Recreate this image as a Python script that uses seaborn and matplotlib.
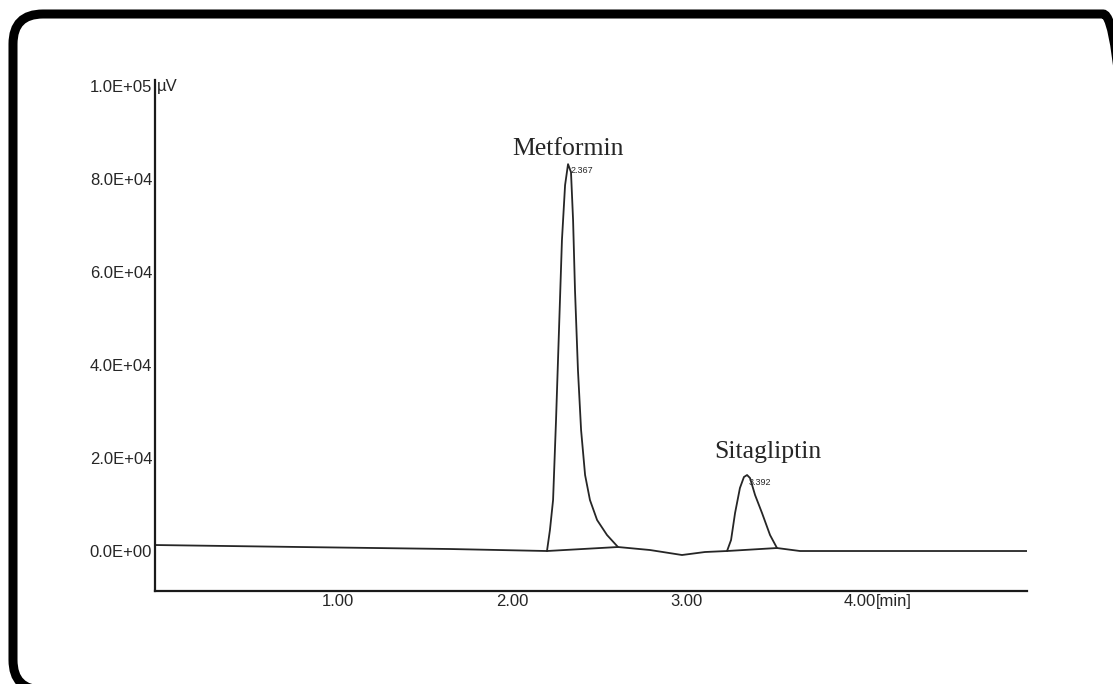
import pandas as pd
import seaborn as sns
import matplotlib.pyplot as plt
from matplotlib.patches import FancyBboxPatch
from matplotlib.transforms import IdentityTransform

# kromatogram lest av bildet (tid i min, signal i uV)
tid = [-0.052, 0.782, 1.644, 2.201, 2.218, 2.236, 2.253, 2.270, 2.287, 2.305,
       2.322, 2.339, 2.351, 2.362, 2.379, 2.397, 2.420, 2.448, 2.489, 2.546,
       2.609, 2.793, 2.977, 3.109, 3.236, 3.259, 3.282, 3.310, 3.333, 3.351,
       3.368, 3.397, 3.437, 3.483, 3.523, 3.655, 4.960]
signal = [1290, 860, 430, 0, 4515, 10965, 28170, 47520, 66870, 78690,
          83200, 81485, 71165, 56115, 38915, 26015, 16340, 10965, 6665, 3440,
          860, 215, -860, -215, 0, 2365, 8170, 13550, 15915, 16340,
          15700, 12040, 8170, 3440, 645, 0, 0]

# integrasjonsgrunnlinjer under toppene
grunnlinje_tid = [[2.201, 2.609], [3.236, 3.523]]
grunnlinje_verdi = [[0, 860], [0, 645]]

# toppnavn og retensjonstider
topp_navn = ["Metformin", "Sitagliptin"]
navn_x = [2.322, 3.471]
navn_y = [85140, 20000]
rt_tekst = ["2.367", "3.392"]
rt_x = [2.339, 3.358]
rt_y = [81900, 14800]

y_ticks = [0, 20000, 40000, 60000, 80000, 100000]
y_labels = ["0.0E+00", "2.0E+04", "4.0E+04", "6.0E+04", "8.0E+04", "1.0E+05"]
x_ticks = [1, 2, 3, 4]
x_labels = ["1.00", "2.00", "3.00", "4.00"]

sns.set_style("white")
plt.rcParams["font.family"] = ["Liberation Sans", "DejaVu Sans"]

fig = plt.figure(figsize=(11.13, 6.84), dpi=100)
ax = fig.add_axes([155 / 1113, 93 / 684, 872 / 1113, 511 / 684])

df = pd.DataFrame({"tid": tid, "signal": signal})
sns.lineplot(data=df, x="tid", y="signal", sort=False, estimator=None,
             color="#262626", linewidth=1.3, ax=ax)
for gt, gv in zip(grunnlinje_tid, grunnlinje_verdi):
    sns.lineplot(x=gt, y=gv, sort=False, estimator=None,
                 color="#262626", linewidth=1.3, ax=ax)

for navn, x, y in zip(topp_navn, navn_x, navn_y):
    ax.text(x, y, navn, ha="center", va="baseline", fontsize=18.5,
            family=["Liberation Serif", "DejaVu Serif"])
for t, x, y in zip(rt_tekst, rt_x, rt_y):
    ax.text(x, y, t, ha="left", va="center", fontsize=6.5)

ax.set_xlim(-0.052, 4.96)
ax.set_ylim(-8600, 101300)
ax.set_xticks(x_ticks)
ax.set_xticklabels(x_labels, fontsize=12)
ax.set_yticks(y_ticks)
ax.set_yticklabels(y_labels, fontsize=12)
ax.tick_params(length=0, pad=2)
ax.set_xlabel("")
ax.set_ylabel("")

# enheter henger etter øverste/siste etikett
ax.annotate("µV", xy=(0, 100000), xycoords=("axes fraction", "data"),
            xytext=(2, 0), textcoords="offset pixels", ha="left", va="center", fontsize=12)
ax.annotate("[min]", xy=(4, 0), xycoords=("data", "axes fraction"),
            xytext=(16, -3), textcoords="offset pixels", ha="left", va="top", fontsize=12)

sns.despine(ax=ax)
for side in ["left", "bottom"]:
    ax.spines[side].set_color("#1a1a1a")
    ax.spines[side].set_linewidth(1.6)

# avrundet ramme rundt hele figuren, høyre og nedre kant ligger like utenfor bildet
ramme = FancyBboxPatch((13, -6), 1120, 676,
                       boxstyle="round,pad=0,rounding_size=30",
                       transform=IdentityTransform(), fill=False,
                       edgecolor="black", linewidth=6.5)
fig.patches.append(ramme)

fig.savefig("out.png", dpi=100)
